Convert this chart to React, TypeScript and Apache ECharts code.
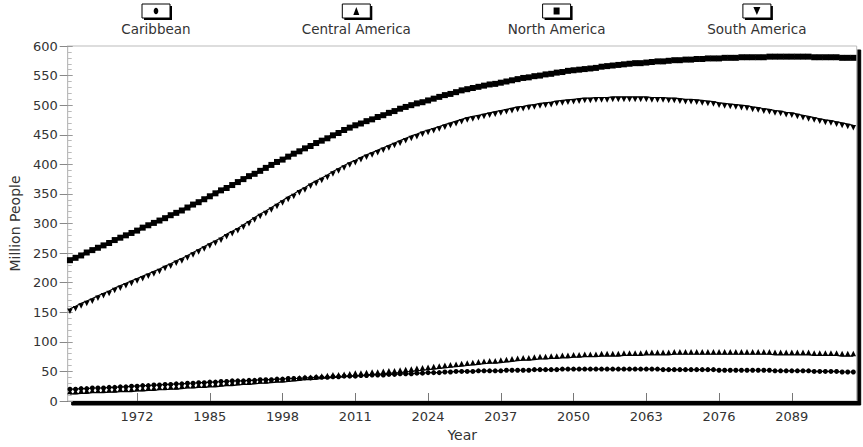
import React, { useEffect, useRef } from "react";
import * as echarts from "echarts";

// ---- Data (million people), one value per year starting 1960 ----
const START_YEAR = 1960;
const SERIES_NAMES = ["Caribbean", "Central America", "North America", "South America"];
const X_TICKS = [1972, 1985, 1998, 2011, 2024, 2037, 2050, 2063, 2076, 2089];

const CARIBBEAN = [
  20, 20, 21, 21, 22, 22, 22, 23, 23, 24, 24,
  25, 25, 26, 26, 27, 27, 28, 28, 29, 29,
  30, 30, 31, 31, 32, 32, 33, 33, 34, 34,
  34, 35, 35, 36, 36, 36, 37, 37, 38, 38,
  38, 39, 39, 40, 40, 40, 41, 41, 42, 42,
  42, 43, 43, 44, 44, 44, 45, 45, 46, 46,
  46, 47, 47, 48, 48, 48, 49, 49, 50, 50,
  50, 50, 51, 51, 51, 51, 51, 52, 52, 52,
  52, 52, 53, 53, 53, 53, 53, 54, 54, 54,
  54, 54, 54, 54, 54, 54, 54, 54, 54, 54,
  54, 54, 54, 54, 54, 53, 53, 53, 53, 53,
  53, 53, 53, 53, 53, 52, 52, 52, 52, 52,
  52, 52, 52, 52, 52, 51, 51, 51, 51, 51,
  51, 51, 50, 50, 50, 50, 50, 49, 49, 49,
];

const CENTRAL_AMERICA = [
  12, 12, 13, 13, 14, 14, 14, 15, 15, 16, 16,
  16, 17, 17, 18, 18, 19, 19, 20, 20, 21,
  22, 22, 23, 23, 24, 24, 25, 26, 26, 27,
  28, 28, 29, 30, 30, 31, 32, 32, 33, 34,
  35, 36, 36, 37, 38, 39, 40, 40, 41, 42,
  43, 43, 44, 45, 45, 46, 47, 47, 48, 49,
  50, 51, 52, 53, 54, 55, 56, 57, 58, 59,
  60, 61, 62, 63, 64, 64, 65, 66, 67, 68,
  69, 69, 70, 71, 71, 72, 72, 73, 73, 74,
  74, 75, 75, 75, 76, 76, 76, 76, 77, 77,
  77, 77, 78, 78, 78, 78, 78, 79, 79, 79,
  79, 79, 79, 79, 79, 79, 79, 79, 79, 79,
  79, 79, 79, 79, 79, 78, 78, 78, 78, 78,
  78, 78, 77, 77, 77, 77, 77, 76, 76, 76,
];

const NORTH_AMERICA = [
  238, 242, 246, 251, 255, 259, 263, 267, 272, 276, 280,
  284, 288, 293, 297, 301, 305, 309, 314, 318, 322,
  327, 332, 336, 341, 346, 351, 356, 360, 365, 370,
  375, 380, 384, 389, 394, 399, 404, 408, 413, 418,
  422, 427, 431, 436, 440, 444, 449, 453, 458, 462,
  466, 469, 473, 476, 480, 483, 487, 490, 494, 497,
  500, 503, 505, 508, 511, 514, 517, 519, 522, 525,
  527, 529, 531, 533, 535, 536, 538, 540, 542, 544,
  546, 547, 549, 550, 552, 553, 555, 556, 558, 559,
  560, 561, 562, 563, 565, 566, 567, 568, 569, 570,
  571, 571, 572, 573, 574, 574, 575, 576, 576, 577,
  577, 578, 578, 579, 579, 579, 580, 580, 580, 581,
  581, 581, 581, 581, 582, 582, 582, 582, 582, 582,
  582, 582, 581, 581, 581, 581, 581, 580, 580, 580,
];

const SOUTH_AMERICA = [
  156, 160, 165, 169, 173, 178, 182, 186, 191, 195, 199,
  203, 207, 211, 215, 219, 223, 228, 232, 237, 241,
  246, 251, 256, 261, 266, 271, 276, 282, 287, 292,
  298, 304, 310, 316, 321, 327, 333, 339, 345, 350,
  356, 361, 367, 372, 377, 382, 388, 393, 398, 403,
  407, 412, 416, 420, 424, 428, 432, 436, 440, 444,
  448, 451, 455, 458, 461, 464, 467, 470, 473, 476,
  479, 481, 483, 485, 487, 489, 491, 493, 495, 497,
  498, 500, 501, 503, 504, 505, 507, 508, 509, 510,
  511, 512, 512, 513, 513, 513, 514, 514, 514, 514,
  514, 514, 514, 513, 513, 513, 512, 512, 511, 510,
  510, 509, 508, 507, 506, 504, 503, 502, 501, 500,
  499, 497, 496, 494, 493, 491, 490, 488, 487, 485,
  483, 481, 479, 477, 475, 474, 472, 470, 468, 466,
];

const SERIES_VALUES = [CARIBBEAN, CENTRAL_AMERICA, NORTH_AMERICA, SOUTH_AMERICA];

const FONT = '"DejaVu Sans", "Liberation Sans", Arial, sans-serif';

function legendMarker(kind: number) {
  const fill = "#000";
  if (kind === 0) return { type: "ellipse", shape: { cx: 0, cy: 11, rx: 2.3, ry: 3.2 }, style: { fill } };
  if (kind === 1) return { type: "polygon", shape: { points: [[-3, 15], [3, 15], [0, 7]] }, style: { fill } };
  if (kind === 2) return { type: "rect", shape: { x: -3, y: 7.5, width: 6, height: 7 }, style: { fill } };
  return { type: "polygon", shape: { points: [[-3.5, 7], [3.5, 7], [0, 15]] }, style: { fill } };
}

export default function App() {
  const ref = useRef<HTMLDivElement>(null);

  useEffect(() => {
    if (!ref.current) return;
    const chart = echarts.init(ref.current, undefined, { renderer: "svg" });

    const symbolDefs = [
      { symbol: "circle", symbolSize: 5, symbolRotate: 0, symbolOffset: [0, 0] },
      { symbol: "triangle", symbolSize: 5.5, symbolRotate: 0, symbolOffset: [0, -2.5] },
      { symbol: "rect", symbolSize: 6, symbolRotate: 0, symbolOffset: [0, 0] },
      { symbol: "triangle", symbolSize: 5.5, symbolRotate: 180, symbolOffset: [0, 2.5] },
    ];

    const series = SERIES_NAMES.map((name, i) => ({
      name,
      type: "line",
      data: SERIES_VALUES[i].map((v, k) => [START_YEAR + k, v]),
      showSymbol: true,
      showAllSymbol: true,
      symbol: symbolDefs[i].symbol,
      symbolSize: symbolDefs[i].symbolSize,
      symbolRotate: symbolDefs[i].symbolRotate,
      symbolOffset: symbolDefs[i].symbolOffset,
      itemStyle: { color: "#000", borderWidth: 0 },
      lineStyle: { color: "#000", width: i === 2 ? 3 : 1.2 },
      emphasis: { disabled: true },
      z: 3,
    }));

    const legend = SERIES_NAMES.map((name, i) => ({
      type: "group",
      x: 156 + 200.3 * i,
      y: 0,
      children: [
        { type: "rect", shape: { x: -12, y: 6, width: 28, height: 14 }, style: { fill: "#000" } },
        { type: "rect", shape: { x: -14, y: 4, width: 28, height: 14 }, style: { fill: "#fff", stroke: "#000", lineWidth: 1 } },
        legendMarker(i),
        {
          type: "text",
          x: 0,
          y: 29,
          style: { text: name, fill: "#333", font: `13.5px ${FONT}`, align: "center", verticalAlign: "middle" },
        },
      ],
    }));

    chart.setOption({
      animation: false,
      backgroundColor: "#fff",
      textStyle: { fontFamily: FONT },
      grid: {
        left: 57.5,
        right: 6.3,
        top: 46,
        bottom: 38.5,
        show: true,
        backgroundColor: "#fff",
        borderColor: "#bbb",
        borderWidth: 1,
        shadowColor: "#000",
        shadowBlur: 0,
        shadowOffsetX: 4,
        shadowOffsetY: 4,
      },
      xAxis: {
        type: "value",
        min: 1959.6,
        max: 2100.6,
        name: "Year",
        nameLocation: "middle",
        nameGap: 27,
        nameTextStyle: { fontSize: 14, color: "#333", fontFamily: FONT },
        axisLine: { show: true, lineStyle: { color: "#000", width: 1 } },
        axisTick: { show: true, inside: true, length: 8, customValues: X_TICKS, lineStyle: { color: "#777" } },
        axisLabel: {
          show: true,
          customValues: X_TICKS,
          margin: 9,
          fontSize: 13,
          color: "#333",
          fontFamily: FONT,
          formatter: (v: number) => String(Math.round(v)),
        },
        splitLine: { show: false },
      },
      yAxis: [
        {
          type: "value",
          min: 0,
          max: 600,
          interval: 50,
          name: "Million People",
          nameLocation: "middle",
          nameGap: 40,
          nameTextStyle: { fontSize: 14, color: "#333", fontFamily: FONT },
          axisLine: { show: true, lineStyle: { color: "#bbb", width: 1 } },
          axisTick: { show: true, inside: false, length: 8, lineStyle: { color: "#888" } },
          axisLabel: { show: true, margin: 10, fontSize: 13, color: "#333", fontFamily: FONT },
          splitLine: { show: false },
        },
        {
          type: "value",
          min: 0,
          max: 600,
          interval: 50,
          position: "left",
          axisLine: { show: false },
          axisTick: { show: true, inside: true, length: 5, lineStyle: { color: "#999" } },
          minorTick: { show: true, splitNumber: 5, length: 4, lineStyle: { color: "#bbb" } },
          axisLabel: { show: false },
          splitLine: { show: false },
        },
      ],
      graphic: legend,
      series,
    });

    return () => chart.dispose();
  }, []);

  return (
    <div
      ref={ref}
      style={{ position: "fixed", left: 0, top: 0, width: 863, height: 447, background: "#fff" }}
    />
  );
}
